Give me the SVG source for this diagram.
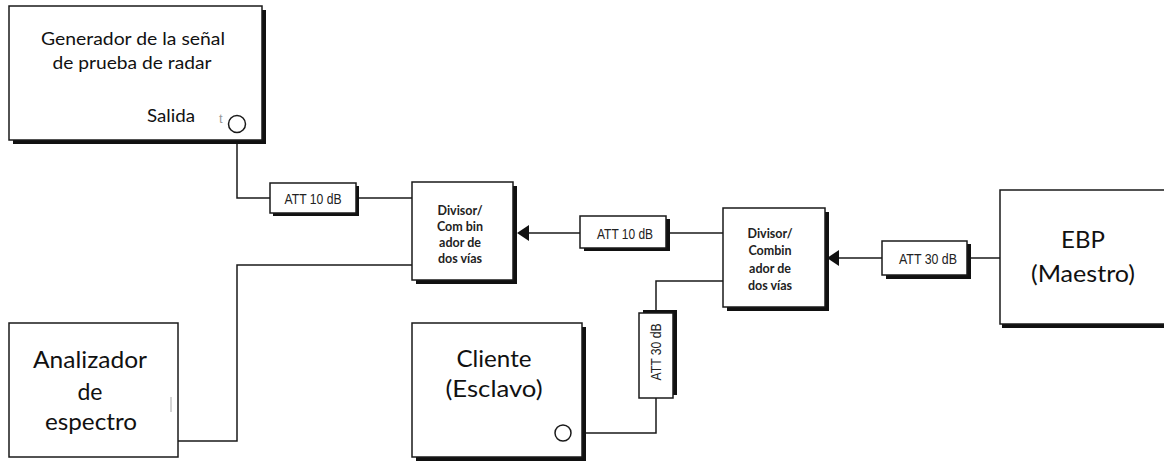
<svg xmlns="http://www.w3.org/2000/svg" width="1164" height="461" viewBox="0 0 1164 461">
<style>
.box{fill:#fff;stroke:#1a1a1a;stroke-width:1.5}
.sh{fill:#111}
.ln{fill:none;stroke:#1a1a1a;stroke-width:1.5}
.big{font-family:Lato,"Liberation Sans",sans-serif;fill:#111;text-anchor:middle}
.att{font-family:"Liberation Sans",Arial,sans-serif;font-size:15px;fill:#222;text-anchor:middle}
.div{font-family:Lato,"Liberation Sans",sans-serif;font-size:12.5px;font-weight:bold;fill:#222;text-anchor:middle}
</style>
<g id="connectors">
<path class="ln" d="M237,133 V198 H270"/>
<path class="ln" d="M358,198 H412"/>
<path class="ln" d="M412,265 H237 V441 H170"/>
<path class="ln" d="M580,233 H529"/>
<path d="M517,233 L529,225 L529,241 Z" fill="#111"/>
<path class="ln" d="M669,233 H723"/>
<path class="ln" d="M723,281 H656 V313"/>
<path class="ln" d="M656,398 V433 H571"/>
<path class="ln" d="M882,258 H839"/>
<path d="M827,258 L839,250 L839,266 Z" fill="#111"/>
<path class="ln" d="M970,258 H1000"/>
</g>
<g id="generador">
<rect class="sh" x="13" y="10" width="253" height="134"/>
<rect class="box" x="9" y="6" width="253" height="134"/>
<text class="big" font-size="17" x="133" y="45" textLength="184" lengthAdjust="spacingAndGlyphs">Generador de la señal</text>
<text class="big" font-size="17" x="132" y="69" textLength="159" lengthAdjust="spacingAndGlyphs">de prueba de radar</text>
<text class="big" font-size="17" x="171" y="122" textLength="48" lengthAdjust="spacingAndGlyphs">Salida</text>
<text font-family="Liberation Sans,sans-serif" font-size="13" fill="#999" x="219" y="123">t</text>
<circle cx="237" cy="124" r="8.5" fill="#fff" stroke="#1a1a1a" stroke-width="1.5"/>
</g>
<g id="att1">
<rect class="sh" x="273" y="186" width="86" height="30"/>
<rect class="box" x="270" y="183" width="86" height="30"/>
<text class="att" x="313" y="204" textLength="57" lengthAdjust="spacingAndGlyphs">ATT 10 dB</text>
</g>
<g id="divisor1">
<rect class="sh" x="416" y="186" width="101" height="98"/>
<rect class="box" x="412" y="182" width="101" height="98"/>
<text class="div" x="460" y="215">Divisor/</text>
<text class="div" x="460" y="231">Com bin</text>
<text class="div" x="460" y="247">ador de</text>
<text class="div" x="460" y="263">dos vías</text>
</g>
<g id="att2">
<rect class="sh" x="584" y="219" width="86" height="32"/>
<rect class="box" x="580" y="216" width="86" height="32"/>
<text class="att" x="625" y="239" textLength="56" lengthAdjust="spacingAndGlyphs">ATT 10 dB</text>
</g>
<g id="divisor2">
<rect class="sh" x="727" y="212" width="102" height="99"/>
<rect class="box" x="723" y="208" width="102" height="99"/>
<text class="div" x="770" y="238">Divisor/</text>
<text class="div" x="770" y="255">Combin</text>
<text class="div" x="770" y="273">ador de</text>
<text class="div" x="770" y="290">dos vías</text>
</g>
<g id="att3">
<rect class="sh" x="886" y="244" width="85" height="35"/>
<rect class="box" x="882" y="241" width="85" height="34"/>
<text class="att" x="928" y="264" textLength="58" lengthAdjust="spacingAndGlyphs">ATT 30 dB</text>
</g>
<g id="ebp">
<rect class="sh" x="1002" y="192" width="170" height="136"/>
<rect class="box" x="1000" y="190" width="170" height="134"/>
<text class="big" font-size="24" x="1083" y="248">EBP</text>
<text class="big" font-size="24" x="1083" y="282" textLength="104" lengthAdjust="spacingAndGlyphs">(Maestro)</text>
</g>
<g id="analizador">
<rect class="box" x="9" y="323" width="169" height="134"/>
<text class="big" font-size="23" x="90" y="368" textLength="114" lengthAdjust="spacingAndGlyphs">Analizador</text>
<text class="big" font-size="23" x="90" y="400">de</text>
<text class="big" font-size="23" x="91" y="430" textLength="92" lengthAdjust="spacingAndGlyphs">espectro</text>
<line x1="171" y1="397" x2="171" y2="412" stroke="#aaa" stroke-width="1"/>
</g>
<g id="cliente">
<rect class="sh" x="416" y="327" width="170" height="134"/>
<rect class="box" x="412" y="323" width="170" height="134"/>
<text class="big" font-size="23" x="494" y="367" textLength="75" lengthAdjust="spacingAndGlyphs">Cliente</text>
<text class="big" font-size="23" x="494" y="397" textLength="97" lengthAdjust="spacingAndGlyphs">(Esclavo)</text>
<circle cx="563" cy="433" r="8" fill="#fff" stroke="#1a1a1a" stroke-width="1.5"/>
</g>
<g id="att4">
<rect class="sh" x="643" y="310" width="34" height="85"/>
<rect class="box" x="639" y="313" width="34" height="85"/>
<text class="att" transform="translate(661 352) rotate(-90)" x="0" y="0" textLength="57" lengthAdjust="spacingAndGlyphs">ATT 30 dB</text>
</g>
</svg>
